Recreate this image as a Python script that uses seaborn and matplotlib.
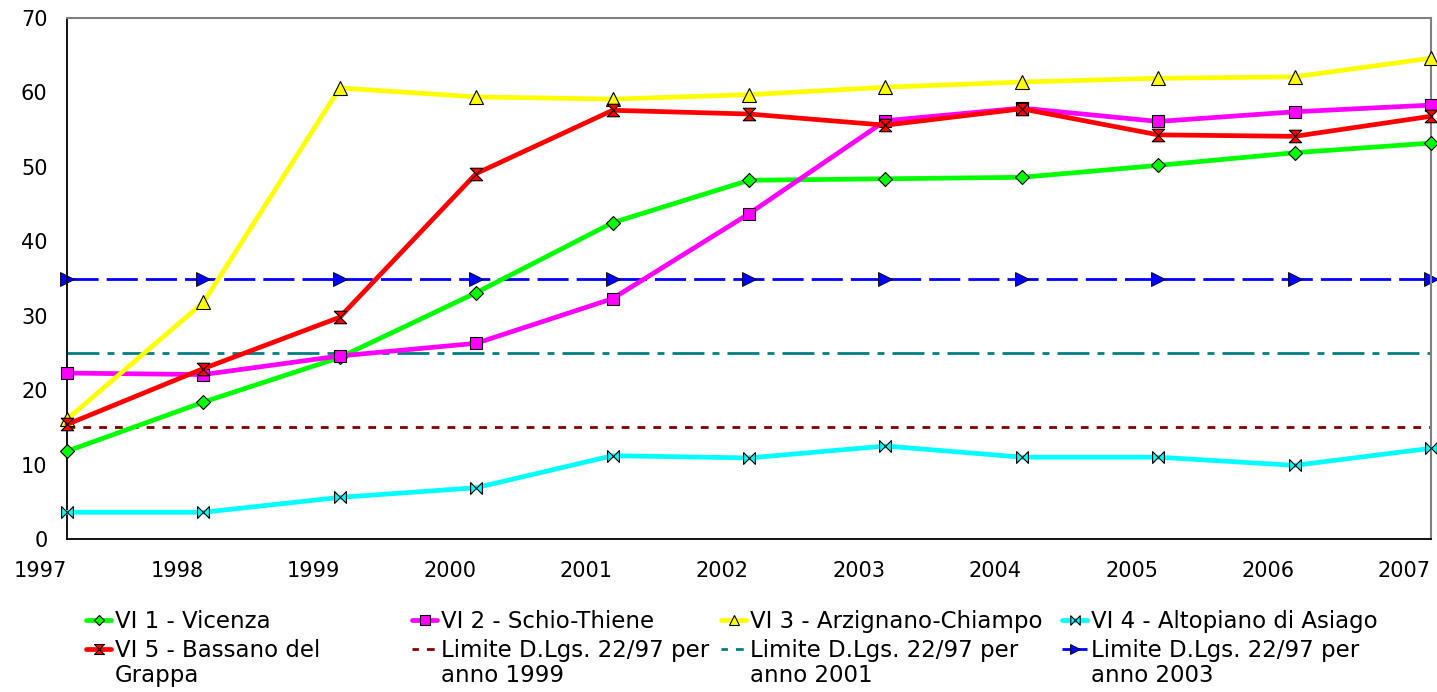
import numpy as np
import pandas as pd
import matplotlib
matplotlib.use("Agg")
import matplotlib.pyplot as plt
from matplotlib.path import Path
from matplotlib.lines import Line2D
from matplotlib.transforms import IdentityTransform
import seaborn as sns

# ============================================================
# Data
# ============================================================

years = [1997, 1998, 1999, 2000, 2001, 2002, 2003, 2004, 2005, 2006, 2007]

vi1_vicenza = [11.8, 18.4, 24.4, 33.1, 42.5, 48.2, 48.4, 48.6, 50.2, 51.9, 53.2]
vi2_schio = [22.3, 22.1, 24.6, 26.3, 32.3, 43.7, 56.2, 57.9, 56.1, 57.4, 58.3]
vi3_arzignano = [16.1, 31.8, 60.6, 59.4, 59.1, 59.7, 60.7, 61.4, 61.9, 62.1, 64.6]
vi4_asiago = [3.6, 3.6, 5.6, 6.9, 11.2, 10.9, 12.5, 11.0, 11.0, 9.9, 12.2]
vi5_bassano = [15.4, 22.9, 29.8, 49.1, 57.6, 57.1, 55.6, 57.8, 54.3, 54.1, 56.8]

limit_values = [15, 25, 35]

labels = [
    "VI 1 - Vicenza",
    "VI 2 - Schio-Thiene",
    "VI 3 - Arzignano-Chiampo",
    "VI 4 - Altopiano di Asiago",
    "VI 5 - Bassano del\nGrappa",
    "Limite D.Lgs. 22/97 per\nanno 1999",
    "Limite D.Lgs. 22/97 per\nanno 2001",
    "Limite D.Lgs. 22/97 per\nanno 2003",
]

# ============================================================
# Style
# ============================================================

sns.set_style("white")
plt.rcParams["font.family"] = ["DejaVu Sans"]
plt.rcParams["text.color"] = "black"
plt.rcParams["xtick.color"] = "black"
plt.rcParams["ytick.color"] = "black"
plt.rcParams["axes.labelcolor"] = "black"

bowtie = Path([(-1, 1), (-1, -1), (1, 1), (1, -1), (-1, 1)],
              [Path.MOVETO, Path.LINETO, Path.LINETO, Path.LINETO, Path.CLOSEPOLY])
hourglass = Path([(-1, 1), (1, 1), (-1, -1), (1, -1), (-1, 1)],
                 [Path.MOVETO, Path.LINETO, Path.LINETO, Path.LINETO, Path.CLOSEPOLY])

fig = plt.figure(figsize=(14.37, 6.92), dpi=100)
ax = fig.add_axes([0.0466, 0.221, 0.9492, 0.753])

series = [
    (vi1_vicenza, labels[0], "#00ff00", "D", 7),
    (vi2_schio, labels[1], "#ff00ff", "s", 8.8),
    (vi3_arzignano, labels[2], "#ffff00", "^", 9.5),
    (vi4_asiago, labels[3], "#00ffff", bowtie, 8.5),
    (vi5_bassano, labels[4], "#ff0000", hourglass, 9),
]

handles = {}

for values, name, color, marker, size in series:

    df = pd.DataFrame({"year": years, "value": values})

    sns.lineplot(
        data=df,
        x="year",
        y="value",
        ax=ax,
        color=color,
        linewidth=3.4,
        marker=marker,
        markersize=size,
        markeredgecolor="black",
        markeredgewidth=0.8,
        clip_on=False,
        zorder=3,
    )

    handles[name] = ax.lines[-1]

# limit lines
limit_styles = [
    (labels[5], "#800000", (0, (2.8, 2.9)), None),
    (labels[6], "#008080", (0, (11.5, 2.9, 2.5, 2.9)), None),
    (labels[7], "#0000ff", (0, (11.2, 2.9)), ">"),
]

for value, (name, color, dash, marker) in zip(limit_values, limit_styles):

    df = pd.DataFrame({"year": years, "value": [value] * len(years)})

    sns.lineplot(
        data=df,
        x="year",
        y="value",
        ax=ax,
        color=color,
        linewidth=2,
        marker=marker,
        markersize=9.5,
        markeredgecolor="black",
        markeredgewidth=0.6,
        clip_on=False,
        zorder=2,
    )

    ax.lines[-1].set_linestyle(dash)

    if marker is None:
        # the legend shows these two limits as short dashes
        handles[name] = Line2D([], [], color=color, linewidth=2,
                               linestyle=(0.5, (2.8, 2.9)))
    else:
        handles[name] = ax.lines[-1]

# ============================================================
# Axes
# ============================================================

ax.set_xlim(1997, 2007)
ax.set_ylim(0, 70)
ax.set_xticks(years)
ax.set_xticklabels([str(y) for y in years], ha="right")
ax.set_yticks(range(0, 71, 10))
ax.set_xlabel("")
ax.set_ylabel("")

for side in ["left", "bottom"]:
    ax.spines[side].set_color("black")
    ax.spines[side].set_linewidth(1.3)

for side in ["top", "right"]:
    ax.spines[side].set_color("#808080")
    ax.spines[side].set_linewidth(1.5)

ax.tick_params(axis="both", direction="out", length=7, width=1.3,
               color="black", labelsize=15)
ax.tick_params(axis="x", pad=9, top=False)
ax.tick_params(axis="y", pad=7, right=False)

# ============================================================
# Legend (4 columns, second line of labels written below)
# ============================================================

legend_size = 16.5
columns = [
    (86, [labels[0], labels[4]]),
    (412, [labels[1], labels[5]]),
    (721, [labels[2], labels[6]]),
    (1062, [labels[3], labels[7]]),
]

W, H = 1437, 692
legends = []

for x, names in columns:

    first_lines = [n.split("\n")[0] for n in names]

    leg = fig.legend(
        [handles[n] for n in names],
        first_lines,
        loc="upper left",
        bbox_to_anchor=(x / W, 1 - 610 / H),
        frameon=False,
        fontsize=legend_size,
        handlelength=1.1,
        handletextpad=0.15,
        labelspacing=0.27,
        borderpad=0,
        borderaxespad=0,
        markerscale=0.8,
    )

    legends.append((leg, names))

fig.canvas.draw()
renderer = fig.canvas.get_renderer()

for leg, names in legends:

    for text, name in zip(leg.get_texts(), names):

        if "\n" not in name:
            continue

        box = text.get_window_extent(renderer)

        fig.text(
            box.x0,
            box.y0 - 25,
            name.split("\n")[1],
            transform=IdentityTransform(),
            fontsize=legend_size,
            ha="left",
            va="bottom",
        )

plt.savefig("out.png", dpi=100)
plt.close()
